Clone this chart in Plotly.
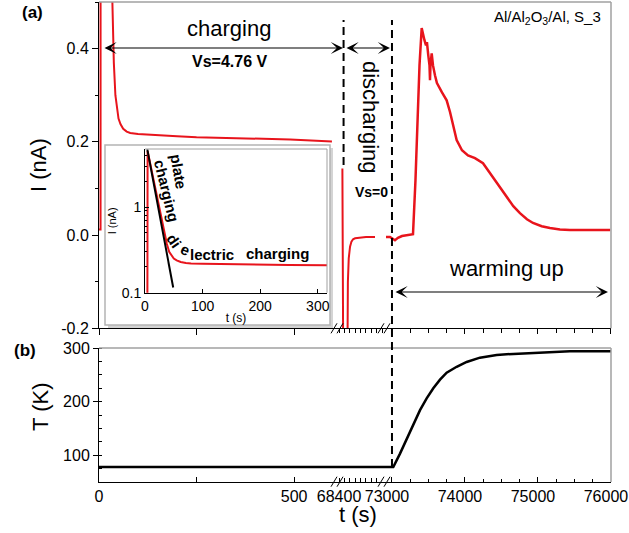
import plotly.graph_objects as go

# ---------------- data ----------------
# charging segment (t in s, I in nA)
charge_t = [0, 4, 4.5, 9, 15, 22, 30, 34, 38, 42, 46, 50, 55, 62, 71, 80, 100,
            148, 200, 250, 319, 400, 490, 597]
charge_I = [0.012, 0.012, 4.5, 3.2, 2.0, 1.2, 0.65, 0.5, 0.37, 0.3, 0.27, 0.25,
            0.238, 0.228, 0.222, 0.219, 0.217, 0.214, 0.212, 0.21, 0.209, 0.207,
            0.205, 0.201]
# discharging segment
dis_t = [68431, 68440, 68443, 68472, 68477, 68482, 68490, 68502, 68515, 68530,
         68549, 68600, 68650, 68700, 68734]
dis_I = [0.143, -0.2, -0.5, -0.5, -0.2, -0.1, -0.05, -0.025, -0.014, -0.009,
         -0.007, -0.005, -0.004, -0.004, -0.004]
# warming segment
warm_t = [72918, 72973, 73041, 73082, 73137, 73219, 73288, 73322, 73349, 73377,
          73407, 73425, 73445, 73466, 73479, 73497, 73514, 73521, 73527, 73544,
          73562, 73589, 73616, 73685, 73749, 73795, 73836, 73886, 73959, 74041,
          74137, 74247, 74315, 74384, 74479, 74575, 74662, 74753, 74849, 74932,
          75051, 75164, 75301, 75438, 75712, 75990]
warm_I = [-0.004, -0.004, -0.011, -0.006, -0.002, 0.0, 0.002, 0.118, 0.246, 0.364,
          0.444, 0.429, 0.418, 0.407, 0.414, 0.386, 0.364, 0.332, 0.364, 0.390,
          0.364, 0.343, 0.326, 0.306, 0.289, 0.264, 0.236, 0.204, 0.182, 0.171,
          0.165, 0.154, 0.139, 0.124, 0.103, 0.081, 0.062, 0.047, 0.034, 0.026,
          0.019, 0.015, 0.012, 0.011, 0.011, 0.011]
# plate-charging fit in the inset
fit_t = [4, 49]
fit_I = [4.7, 0.115]
# temperature
temp_charge_t = [0, 610]
temp_charge_T = [78, 78]
temp_dis_t = [68381, 68808]
temp_dis_T = [78, 78]
temp_warm_t = [72877, 73018, 73110, 73201, 73292, 73384, 73475, 73566, 73658,
               73749, 73886, 74023, 74205, 74434, 74662, 75119, 75438, 76000]
temp_warm_T = [78, 78, 103, 131, 159, 184, 206, 225, 241, 254, 265, 274, 282,
               287, 289, 292, 294, 294]

t_discharge_start = 68442
t_warm_start = 73000

# tick labels
x1_ticks, x1_text = [0, 250, 500], ["0", "", "500"]
x2_ticks, x2_text = [68400], ["68400"]
x3_ticks, x3_text = [73000, 74000, 75000, 76000], ["73000", "74000", "75000", "76000"]
yI_ticks, yI_text = [-0.2, 0.0, 0.2, 0.4], ["-0.2", "0.0", "0.2", "0.4"]
yT_ticks = [100, 200, 300]
ins_x_ticks = [0, 100, 200, 300]
ins_y_ticks, ins_y_text = [0.1, 1], ["0.1", "1"]
ins_y_minor = [0.2, 0.3, 0.4, 0.5, 0.6, 0.7, 0.8, 0.9, 2, 3, 4]

# ---------------- layout geometry ----------------
W, H = 629, 533
L, R, T, B = 99, 18, 2, 51
PW, PH = W - L - R, H - T - B


def px(x):
    return (x - L) / PW


def py(y):
    return (H - B - y) / PH


seg1 = [px(99), px(337)]
seg2 = [px(337), px(383)]
seg3 = [px(383), px(611)]
rng1 = [0, 610]
rng2 = [68381, 68808]
rng3 = [72877, 76000.5]
top_dom = [py(328.3), 1.0]
bot_dom = [0.0, py(348)]
ins_xdom = [px(145), px(327)]
ins_ydom = [py(292.7), py(149)]


def seg_paper(t, dom, rng):
    return dom[0] + (t - rng[0]) / (rng[1] - rng[0]) * (dom[1] - dom[0])


FONT = "Liberation Sans, Arial, sans-serif"
RED = "#e8141c"

fig = go.Figure()

# top panel current
fig.add_trace(go.Scatter(x=charge_t, y=charge_I, mode="lines", xaxis="x", yaxis="y",
                         line=dict(color=RED, width=2)))
fig.add_trace(go.Scatter(x=dis_t, y=dis_I, mode="lines", xaxis="x2", yaxis="y",
                         line=dict(color=RED, width=2)))
fig.add_trace(go.Scatter(x=warm_t, y=warm_I, mode="lines", xaxis="x3", yaxis="y",
                         line=dict(color=RED, width=2.5)))
# bottom panel temperature
fig.add_trace(go.Scatter(x=temp_charge_t, y=temp_charge_T, mode="lines", xaxis="x4", yaxis="y2",
                         line=dict(color="black", width=2.5)))
fig.add_trace(go.Scatter(x=temp_dis_t, y=temp_dis_T, mode="lines", xaxis="x5", yaxis="y2",
                         line=dict(color="black", width=2.5)))
fig.add_trace(go.Scatter(x=temp_warm_t, y=temp_warm_T, mode="lines", xaxis="x6", yaxis="y2",
                         line=dict(color="black", width=2.5)))
# inset
fig.add_trace(go.Scatter(x=charge_t, y=charge_I, mode="lines", xaxis="x7", yaxis="y3",
                         line=dict(color=RED, width=2)))
fig.add_trace(go.Scatter(x=fit_t, y=fit_I, mode="lines", xaxis="x7", yaxis="y3",
                         line=dict(color="black", width=2)))

tickfont = dict(family=FONT, size=16, color="black")
base_x = dict(showline=True, linecolor="black", linewidth=1, showgrid=False,
              zeroline=False, tickcolor="black", tickfont=tickfont, fixedrange=True,
              automargin=False)

layout = dict(
    width=W, height=H,
    margin=dict(l=L, r=R, t=T, b=B, autoexpand=False),
    paper_bgcolor="white", plot_bgcolor="rgba(0,0,0,0)",
    showlegend=False,
    font=dict(family=FONT, color="black"),
    xaxis=dict(base_x, domain=seg1, range=rng1, anchor="y", tickmode="array",
               tickvals=x1_ticks, ticks="outside", ticklen=6, showticklabels=False),
    xaxis2=dict(base_x, domain=seg2, range=rng2, anchor="y", tickmode="array",
                tickvals=x2_ticks, ticks="outside", ticklen=4, showticklabels=False,
                minor=dict(ticks="outside", ticklen=4, dtick=50, tick0=68400, tickcolor="black")),
    xaxis3=dict(base_x, domain=seg3, range=rng3, anchor="y", tickmode="array",
                tickvals=x3_ticks, ticks="outside", ticklen=5, showticklabels=False,
                minor=dict(ticks="outside", ticklen=4, dtick=250, tick0=73000, tickcolor="black")),
    xaxis4=dict(base_x, domain=seg1, range=rng1, anchor="y2", tickmode="array",
                tickvals=x1_ticks, ticktext=x1_text, ticks="inside", ticklen=5),
    xaxis5=dict(base_x, domain=seg2, range=rng2, anchor="y2", tickmode="array",
                tickvals=x2_ticks, ticktext=x2_text, ticks="inside", ticklen=4,
                minor=dict(ticks="inside", ticklen=4, dtick=50, tick0=68400, tickcolor="black")),
    xaxis6=dict(base_x, domain=seg3, range=rng3, anchor="y2", tickmode="array",
                tickvals=x3_ticks, ticktext=x3_text, ticks="inside", ticklen=5,
                ticklabeloverflow="allow", ticklabelshift=-5,
                minor=dict(ticks="inside", ticklen=3, dtick=250, tick0=73000, tickcolor="black")),
    yaxis=dict(base_x, domain=top_dom, range=[-0.2, 0.5], anchor="x", tickmode="array",
               tickvals=yI_ticks, ticktext=yI_text, ticks="outside", ticklen=6,
               minor=dict(ticks="outside", ticklen=3, dtick=0.1, tick0=0, tickcolor="black")),
    yaxis2=dict(base_x, domain=bot_dom, range=[50, 300], anchor="x4", tickmode="array",
                tickvals=yT_ticks, ticks="outside", ticklen=5,
                minor=dict(ticks="inside", ticklen=3, dtick=25, tick0=0, tickcolor="black")),
    xaxis7=dict(base_x, domain=ins_xdom, range=[0, 316], anchor="y3", tickmode="array",
                tickvals=ins_x_ticks, ticks="inside", ticklen=4,
                tickfont=dict(family=FONT, size=14, color="black"),
                title=dict(text="t (s)", font=dict(family=FONT, size=12), standoff=1)),
    yaxis3=dict(base_x, domain=ins_ydom, type="log", range=[-1, 0.677], anchor="x7",
                tickmode="array", tickvals=ins_y_ticks, ticktext=ins_y_text,
                ticks="inside", ticklen=4,
                tickfont=dict(family=FONT, size=14, color="black"),
                minor=dict(ticks="inside", ticklen=2, tickmode="array",
                           tickvals=ins_y_minor, tickcolor="black"),
                title=dict(text="I (nA)", font=dict(family=FONT, size=11), standoff=2)),
)

GRAY = "#a0a0a0"
shapes = []
# panel borders (gray top / right)
shapes.append(dict(type="line", xref="paper", yref="paper", x0=0, x1=1, y0=1, y1=1,
                   line=dict(color=GRAY, width=1.5)))
shapes.append(dict(type="line", xref="paper", yref="paper", x0=1, x1=1, y0=top_dom[0], y1=1,
                   line=dict(color=GRAY, width=1.5)))
shapes.append(dict(type="line", xref="paper", yref="paper", x0=0, x1=1, y0=bot_dom[1], y1=bot_dom[1],
                   line=dict(color=GRAY, width=1.5)))
shapes.append(dict(type="line", xref="paper", yref="paper", x0=1, x1=1, y0=0, y1=bot_dom[1],
                   line=dict(color=GRAY, width=1.5)))
# inset box with shadow
shapes.append(dict(type="rect", xref="paper", yref="paper", layer="below",
                   x0=px(108), x1=px(333), y0=py(328), y1=py(148),
                   fillcolor="#d4d4d4", line=dict(width=0)))
shapes.append(dict(type="rect", xref="paper", yref="paper", layer="below",
                   x0=px(105), x1=px(330), y0=py(325), y1=py(145),
                   fillcolor="white", line=dict(color="#b4b4b4", width=1.5)))
# inset plot frame (top/right)
shapes.append(dict(type="line", xref="paper", yref="paper", x0=ins_xdom[0], x1=ins_xdom[1],
                   y0=ins_ydom[1], y1=ins_ydom[1], line=dict(color=GRAY, width=1)))
shapes.append(dict(type="line", xref="paper", yref="paper", x0=ins_xdom[1], x1=ins_xdom[1],
                   y0=ins_ydom[0], y1=ins_ydom[1], line=dict(color=GRAY, width=1)))
# dashed separators
xd1 = seg_paper(t_discharge_start, seg2, rng2)
xd2 = seg_paper(t_warm_start, seg3, rng3)
shapes.append(dict(type="line", xref="paper", yref="paper", x0=xd1, x1=xd1,
                   y0=py(165), y1=py(20), line=dict(color="black", width=2, dash="8px,5px")))
shapes.append(dict(type="line", xref="paper", yref="paper", x0=xd2, x1=xd2,
                   y0=py(467), y1=py(20), line=dict(color="black", width=2, dash="8px,5px")))
# axis break marks
for yb in (328.3, 481.7):
    for xb in (334, 340, 381, 387):
        shapes.append(dict(type="line", xref="paper", yref="paper",
                           x0=px(xb - 3), x1=px(xb + 3), y0=py(yb + 5), y1=py(yb - 5),
                           line=dict(color="black", width=1)))
layout["shapes"] = shapes


def ann(text, x, y, size, bold=False, angle=0, xanchor="center"):
    return dict(text=f"<b>{text}</b>" if bold else text, x=px(x), y=py(y),
                xref="paper", yref="paper", showarrow=False, textangle=angle,
                xanchor=xanchor, yanchor="middle",
                font=dict(family=FONT, size=size, color="black"))


def arrow(x_tail, x_head, y):
    return dict(text="", x=px(x_head), y=py(y), xref="paper", yref="paper",
                ax=-(x_head - x_tail), ay=0, axref="pixel", ayref="pixel",
                showarrow=True, arrowside="end+start", arrowhead=3, startarrowhead=3,
                arrowsize=1.7, startarrowsize=1.7, arrowwidth=1.2, arrowcolor="black",
                standoff=0, startstandoff=0)


annotations = [
    ann("(a)", 32, 12, 17, bold=True),
    ann("(b)", 25, 350, 17, bold=True),
    ann("I (nA)", 38, 165, 22, angle=-90),
    ann("T (K)", 40, 407, 22, angle=-90),
    ann("t (s)", 358, 514, 22),
    ann("charging", 229, 28, 22),
    ann("Vs=4.76 V", 230, 61, 16, bold=True),
    ann("discharging", 371, 117, 22, angle=90),
    ann("Vs=0", 371, 192, 14, bold=True),
    ann("Al/Al<sub>2</sub>O<sub>3</sub>/Al, S_3", 603, 18, 15, xanchor="right"),
    ann("warming up", 506, 268, 22),
    ann("plate", 179, 171, 15, bold=True, angle=80),
    ann("charging", 167, 190, 15, bold=True, angle=76),
    ann("di", 174, 240, 15, bold=True, angle=55),
    ann("e", 185, 250, 15, bold=True, angle=25),
    ann("lectric", 212, 254, 15, bold=True),
    ann("charging", 277, 253, 15, bold=True),
    arrow(103, 343, 48),
    arrow(345, 390, 48),
    arrow(394, 608, 292),
]
layout["annotations"] = annotations

fig.update_layout(**layout)
fig.write_html(
    "out.html",
    config={"displayModeBar": False},
    post_script="document.body.style.margin='0';document.body.style.overflow='hidden';",
)
